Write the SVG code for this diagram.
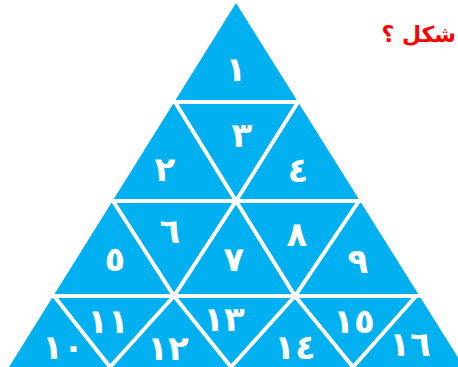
<svg xmlns="http://www.w3.org/2000/svg" width="458" height="367" viewBox="0 0 458 367">
<style>
.tri{fill:#00B0F0}
.sep{stroke:#FFFFFF;stroke-width:4;fill:none}
.num{font-family:"DejaVu Sans",sans-serif;font-weight:bold;font-size:34px;fill:#FFFFFF;text-anchor:middle}
.title{font-family:"DejaVu Sans",sans-serif;font-weight:bold;font-size:22px;fill:#FF0000;text-anchor:end}
</style>
<rect width="458" height="367" fill="#FFFFFF"/>
<g id="pyramid">
<polygon class="tri" points="236,3 9,367 464,367"/>
</g>
<g id="connectors">
<line class="sep" x1="0" y1="102" x2="458" y2="102"/>
<line class="sep" x1="0" y1="201" x2="458" y2="201"/>
<line class="sep" x1="0" y1="296" x2="458" y2="296"/>
<polyline class="sep" points="175,102 236,201 298,102"/>
<polyline class="sep" points="113,201 174,296 236,201 295,296 359,201"/>
<polyline class="sep" points="54,296 110,367 174,296 231,367 295,296 353,367 416,296"/>
</g>
<g id="n1"><text class="num" x="236" y="81">١</text></g>
<g id="n2"><text class="num" x="165" y="181">٢</text></g>
<g id="n3"><text class="num" x="242" y="147">٣</text></g>
<g id="n4"><text class="num" x="298" y="182">٤</text></g>
<g id="n5"><text class="num" x="115" y="271">٥</text></g>
<g id="n6"><text class="num" x="170" y="243">٦</text></g>
<g id="n7"><text class="num" x="234" y="271">٧</text></g>
<g id="n8"><text class="num" x="297" y="246">٨</text></g>
<g id="n9"><text class="num" x="358" y="273">٩</text></g>
<g id="n10"><text class="num" x="63" y="359">١٠</text></g>
<g id="n11"><text class="num" x="108" y="333">١١</text></g>
<g id="n12"><text class="num" x="168" y="360">١٢</text></g>
<g id="n13"><text class="num" x="224" y="331">١٣</text></g>
<g id="n14"><text class="num" x="295" y="359">١٤</text></g>
<g id="n15"><text class="num" x="354" y="333">١٥</text></g>
<g id="n16"><text class="num" x="410" y="356">١٦</text></g>
<g id="title"><text class="title" x="456" y="42">شكل ؟</text></g>
</svg>
